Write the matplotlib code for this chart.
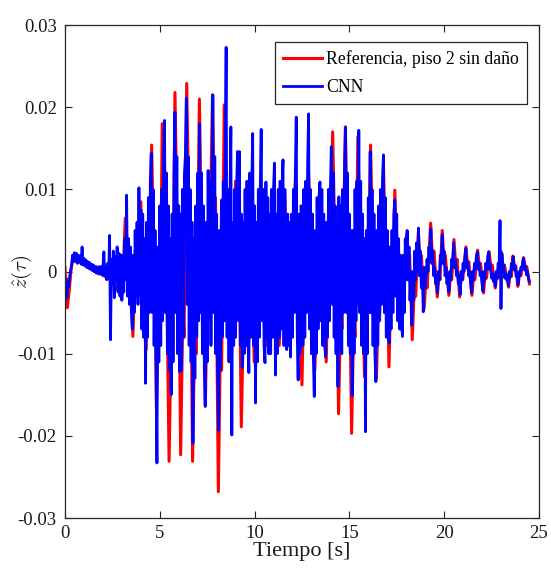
import numpy as np
import matplotlib
matplotlib.use("Agg")
import matplotlib.pyplot as plt

# Reference response (storey 2, undamaged): local extrema, time [s] and value [x1e-3]
ref_t = [
    0.00, 0.03, 0.06, 0.12, 0.22, 0.30, 0.38, 0.46, 0.55, 0.62,
    0.72, 0.80, 0.90, 1.00, 1.10, 1.20, 1.32, 1.42, 1.55, 1.65,
    1.78, 1.88, 2.00, 2.12, 2.25, 2.38, 2.50, 2.62, 2.75, 2.90,
    3.02, 3.18, 3.32, 3.42, 3.58, 3.72, 3.82, 4.00, 4.12, 4.18,
    4.28, 4.42, 4.48, 4.57, 4.68, 4.72, 4.82, 4.95, 5.02, 5.13,
    5.25, 5.32, 5.49, 5.62, 5.68, 5.80, 5.92, 5.98, 6.10, 6.22,
    6.28, 6.42, 6.54, 6.60, 6.73, 6.85, 6.92, 7.09, 7.20, 7.26,
    7.40, 7.52, 7.58, 7.78, 7.88, 7.94, 8.09, 8.20, 8.26, 8.40,
    8.52, 8.58, 8.70, 8.80, 8.86, 9.00, 9.12, 9.18, 9.30, 9.42,
    9.48, 9.65, 9.76, 9.82, 9.98, 10.10, 10.16, 10.32, 10.44, 10.50,
    10.62, 10.74, 10.80, 10.98, 11.10, 11.16, 11.30, 11.42, 11.48, 11.60,
    11.72, 11.80, 11.92, 11.98, 12.15, 12.28, 12.34, 12.50, 12.62, 12.68,
    12.85, 12.98, 13.04, 13.18, 13.30, 13.36, 13.48, 13.58, 13.64, 13.78,
    13.90, 13.96, 14.12, 14.24, 14.30, 14.43, 14.55, 14.61, 14.79, 14.90,
    14.96, 15.12, 15.24, 15.30, 15.45, 15.56, 15.62, 15.80, 15.90, 15.96,
    16.12, 16.24, 16.30, 16.43, 16.55, 16.60, 16.80, 16.92, 16.98, 17.09,
    17.20, 17.26, 17.40, 17.52, 17.58, 17.72, 17.82, 17.88, 18.02, 18.12,
    18.18, 18.32, 18.44, 18.50, 18.64, 18.75, 18.80, 18.95, 19.05, 19.10,
    19.29, 19.40, 19.46, 19.64, 19.74, 19.78, 19.90, 20.00, 20.06, 20.25,
    20.35, 20.40, 20.52, 20.62, 20.68, 20.82, 20.92, 20.98, 21.15, 21.25,
    21.30, 21.47, 21.57, 21.62, 21.77, 21.87, 21.92, 22.08, 22.18, 22.24,
    22.38, 22.48, 22.54, 22.70, 22.80, 22.86, 23.02, 23.12, 23.18, 23.40,
    23.50, 23.55, 23.63, 23.73, 23.78, 23.89, 24.00, 24.05, 24.19, 24.30,
    24.36, 24.50,
]
ref_v = [
    0.5, -2.6, -0.8, -4.4, -2.4, -0.2, 1.2, 2.0, 1.2, 1.7,
    1.1, 1.6, 1.0, 1.4, 0.7, 1.1, 0.3, 0.8, 0.0, 0.6,
    -0.3, 0.4, -0.5, 0.5, -0.8, 0.8, -1.2, 1.4, -2.2, 2.0,
    -2.8, 6.5, -1.5, 2.5, -7.9, 1.5, -1.0, 8.5, -2.0, 1.0,
    -9.5, 4.0, 1.5, 15.4, 2.0, 5.0, -16.6, -3.0, -6.0, 18.0,
    4.0, 8.0, -23.1, -5.0, -9.0, 21.8, 5.0, 8.0, -22.3, -4.0,
    -8.0, 22.9, 6.0, 9.0, -23.1, -6.0, -10.0, 21.0, 4.0, 7.0,
    -16.4, -2.0, -6.0, 21.5, 6.0, 9.0, -26.8, -8.0, -12.0, 20.3,
    4.0, 8.0, -9.3, 3.0, -2.0, 11.0, 1.0, 4.0, -18.9, -5.0,
    -8.0, 10.0, 2.0, 5.0, -11.0, -3.0, -6.0, 11.0, 1.0, 4.0,
    -9.0, -1.0, -4.0, 10.0, 0.0, 3.0, -9.0, -2.0, -5.0, 9.0,
    -3.0, -7.3, 2.0, 0.0, 11.0, 0.0, -3.0, -13.8, 0.0, -3.0,
    12.0, 2.0, 4.0, -12.0, -2.0, -5.0, 9.0, 2.0, 5.0, -11.0,
    2.0, -1.0, 17.0, 3.0, 6.0, -17.3, -4.0, -7.0, 17.6, 4.0,
    7.0, -19.7, -5.0, -8.0, 16.4, 3.0, 6.0, -12.8, -2.0, -5.0,
    15.4, 2.0, 5.0, -13.0, -2.0, -5.0, 13.0, 1.0, 3.0, -11.6,
    -2.0, -4.0, 9.9, 1.0, 3.0, -7.0, -1.0, -3.0, 4.5, 0.5,
    2.0, -8.3, -1.0, -3.0, 4.8, 0.5, 2.0, -4.5, -0.5, -2.0,
    5.9, 1.0, 2.5, -3.1, 0.0, -1.0, 5.0, 1.0, 2.0, -2.9,
    0.0, -1.0, 3.9, 0.5, 1.5, -3.1, 0.0, -1.0, 3.0, 0.3,
    1.2, -2.9, 0.0, -1.0, 2.6, 0.3, 1.0, -2.6, 0.0, -0.8,
    2.4, 0.2, 0.8, -2.0, 0.0, -0.8, 2.4, 0.2, 0.8, -1.9,
    0.0, -0.6, 1.9, 0.2, 0.7, -1.8, 0.0, -0.5, 1.7, 0.2,
    0.6, -1.5,
]

# CNN estimate sampled every 0.05 s, value [x1e-3]; one row per second
cnn_dt = 0.05
cnn_v = [
    -3.5, -1.0, -3.2, -1.5, -1.8, -0.5, 0.2, 0.8, 2.0, 1.2, 2.3, 1.4, 2.2, 1.0, 2.0, 1.2, 1.9, 0.9, 3.0, 0.8,
    1.6, 0.7, 1.4, 0.5, 1.2, 0.4, 1.1, 0.3, 0.9, 0.1, 0.8, 0.0, 0.6, -0.2, 0.5, -0.2, 0.6, -0.3, 0.6, -0.4,
    0.5, 2.4, -0.6, 0.6, -1.0, 1.0, -0.8, 4.4, -8.3, 1.5, -1.5, 2.5, -3.2, 1.8, -1.0, 3.0, -2.5, 2.2, -3.0, 2.0,
    -3.5, 2.0, -2.5, 4.0, -1.0, 9.3, -3.0, 4.0, -4.0, 3.0, -5.0, -7.0, 2.0, -5.0, 5.0, -3.0, 6.0, -4.0, 10.2, -3.0,
    7.5, -7.0, 7.0, -8.0, 4.0, -13.6, 6.0, -8.0, 9.0, -5.0, 11.0, 14.4, -5.0, 10.0, -9.0, 5.0, -11.0, -23.3, 3.0, -11.0,
    8.0, -9.0, 10.0, -6.0, 14.0, 18.4, -5.0, 12.0, -10.0, 8.0, -12.0, 4.0, -15.0, 7.0, -11.0, 12.0, 19.4, -5.0, 14.0, -10.0,
    8.0, -12.2, 7.0, -12.0, 10.0, -8.0, 12.0, 14.0, 21.1, -4.0, 14.0, -9.0, 10.0, -11.0, 6.0, -20.9, 4.0, -13.0, 8.0, -8.0,
    12.0, -6.0, 18.0, -5.0, 12.0, -10.0, 8.0, -12.0, -16.4, 6.0, -11.0, 12.3, -6.0, 11.0, -9.0, 10.0, 21.5, -5.0, 14.0, -10.0,
    7.0, -12.0, -19.3, 5.0, -12.0, 8.7, -8.0, 11.0, -6.0, 13.0, 27.3, -8.0, 10.0, -11.0, 8.0, 17.6, -19.9, 6.0, -9.0, 10.0,
    -8.0, 10.0, 14.6, -6.0, 14.6, -9.0, 7.0, -11.7, 6.0, -10.0, 10.0, -9.0, 11.0, -8.0, -12.3, 12.0, -8.0, 10.0, 16.8, -9.0,
    8.0, -16.0, 6.0, -11.0, 10.0, -8.0, 10.0, 17.3, -6.0, 10.0, -9.0, -11.1, 10.9, -8.0, 9.0, -10.0, 7.0, -10.0, 10.0, -8.0,
    10.0, 13.2, -12.6, 7.0, -10.0, 10.0, -8.0, 11.0, -7.0, 10.0, 13.6, -9.0, 10.0, -8.0, -9.5, 7.0, -9.0, 6.0, -10.4, 7.0,
    -8.0, 10.0, -5.0, 12.0, 18.8, -7.0, -13.2, 7.0, -10.0, 8.0, 7.5, -9.0, 10.0, -8.0, 11.0, -5.0, 13.0, 19.2, -7.0, 10.0,
    -10.0, 7.0, -10.0, -15.2, 5.0, -10.0, 9.0, -7.0, 9.0, 10.9, -6.0, 10.0, -9.0, 7.0, -9.0, -10.4, 6.0, -8.0, 10.0, -6.0,
    10.0, 15.2, -4.0, 12.0, -8.0, 8.0, -10.0, 6.0, -14.0, 9.1, -9.0, 8.0, -10.0, 10.0, -5.0, 13.0, 17.6, -5.0, 12.0, -9.0,
    7.0, -10.0, 5.0, -15.1, 5.0, -10.0, 10.0, -6.0, 11.0, -4.0, 17.2, -5.0, 11.0, -9.0, 7.0, -10.0, 4.0, -19.5, 5.0, -10.0,
    9.0, -5.0, 14.6, -5.0, 10.0, -9.0, 7.0, -10.0, -13.4, 5.0, -9.0, 8.0, -6.0, 10.0, -4.0, 11.0, 14.2, -5.0, 9.0, -8.0,
    5.0, -7.0, -8.7, 3.0, -7.0, 5.0, -5.0, 7.0, 8.7, -3.0, 7.0, -6.0, 4.0, -7.0, 2.0, -6.0, -7.9, 2.0, -5.0, 4.0,
    -1.0, 5.0, -1.0, 3.0, -3.5, 0.0, -6.5, 0.0, -3.5, 2.5, -1.0, 3.5, 0.0, 5.3, -0.5, 2.5, -2.0, 0.5, -4.9, 0.5,
    -2.0, -0.5, 1.5, 0.0, 3.0, 1.5, 5.2, 1.0, 2.5, -0.5, 0.5, -1.5, -0.5, -2.6, 0.0, -1.0, 2.0, 1.0, 4.5, 1.0,
    2.5, -0.5, 0.5, -1.5, -0.5, -2.5, 0.0, -1.0, 1.5, 0.5, 3.5, 0.5, 1.5, -0.5, 0.0, -1.5, -0.5, -2.8, 0.0, -1.0,
    1.0, 0.0, 1.8, 2.8, 0.5, 1.2, -0.5, 0.0, -1.5, -2.6, 0.0, -1.0, 1.0, 0.3, 1.8, 2.4, 0.3, 1.0, -0.5, 0.0,
    -1.5, -2.4, 0.0, -1.0, 1.0, 0.3, 1.8, 2.4, 0.3, 0.8, -0.8, -0.2, -1.2, -0.4, -1.8, 0.0, -0.8, 1.0, 0.3, 6.2,
    -4.5, 2.2, 0.2, 0.8, -0.8, -0.2, -1.0, -0.4, -1.7, 0.0, -0.6, 1.0, 0.4, 1.8, 0.2, 0.7, -0.6, -0.2, -1.6, 0.0,
    -0.5, 0.5, 0.2, 1.2, 1.6, 0.2, 0.6, -0.4, 0.0, -0.8, -1.2,
]

x_ticks = [0, 5, 10, 15, 20, 25]
y_ticks = [-0.03, -0.02, -0.01, 0, 0.01, 0.02, 0.03]
y_tick_labels = ["-0.03", "-0.02", "-0.01", "0", "0.01", "0.02", "0.03"]
series_labels = ["Referencia, piso 2 sin daño", "CNN"]

plt.rcParams['font.family'] = ['Liberation Serif', 'DejaVu Serif']
plt.rcParams['mathtext.fontset'] = 'cm'

fig = plt.figure(figsize=(5.51, 5.84), dpi=100)
ax = fig.add_axes([0.118, 0.113, 0.860, 0.844])

scale = 1e-3
cnn_t = np.arange(len(cnn_v)) * cnn_dt
ax.plot(ref_t, np.asarray(ref_v) * scale, color='#ff0000', lw=2.2,
        solid_joinstyle='round', label=series_labels[0])
ax.plot(cnn_t, np.asarray(cnn_v) * scale, color='#0000ff', lw=2.0,
        solid_joinstyle='round', label=series_labels[1])

ax.set_xlim(0, 25)
ax.set_ylim(-0.03, 0.03)
ax.set_xticks(x_ticks)
ax.set_xticklabels([str(v) for v in x_ticks])
ax.set_yticks(y_ticks)
ax.set_yticklabels(y_tick_labels)

axis_color = '#262626'
for sp in ax.spines.values():
    sp.set_color(axis_color)
    sp.set_linewidth(0.9)
ax.tick_params(direction='in', top=True, right=True, length=5, width=0.8,
               color=axis_color, labelcolor='#1a1a1a', labelsize=13.5)
ax.tick_params(axis='x', pad=5)
ax.tick_params(axis='y', pad=6)

ax.set_xlabel('Tiempo [s]', fontsize=16, labelpad=0, color='#1a1a1a')
ax.set_ylabel(r'$\hat{z}(\tau)$', fontsize=15, color='#1a1a1a')
ax.yaxis.set_label_coords(-0.066, 0.5)

leg = ax.legend(loc='upper right', bbox_to_anchor=(0.975, 0.966),
                borderaxespad=0, fontsize=12.8, fancybox=False,
                framealpha=1, edgecolor=axis_color, handlelength=2.2,
                handletextpad=0.25, labelspacing=0.62, borderpad=0.45)
leg.get_frame().set_linewidth(0.9)

fig.savefig('out.png', dpi=100)
